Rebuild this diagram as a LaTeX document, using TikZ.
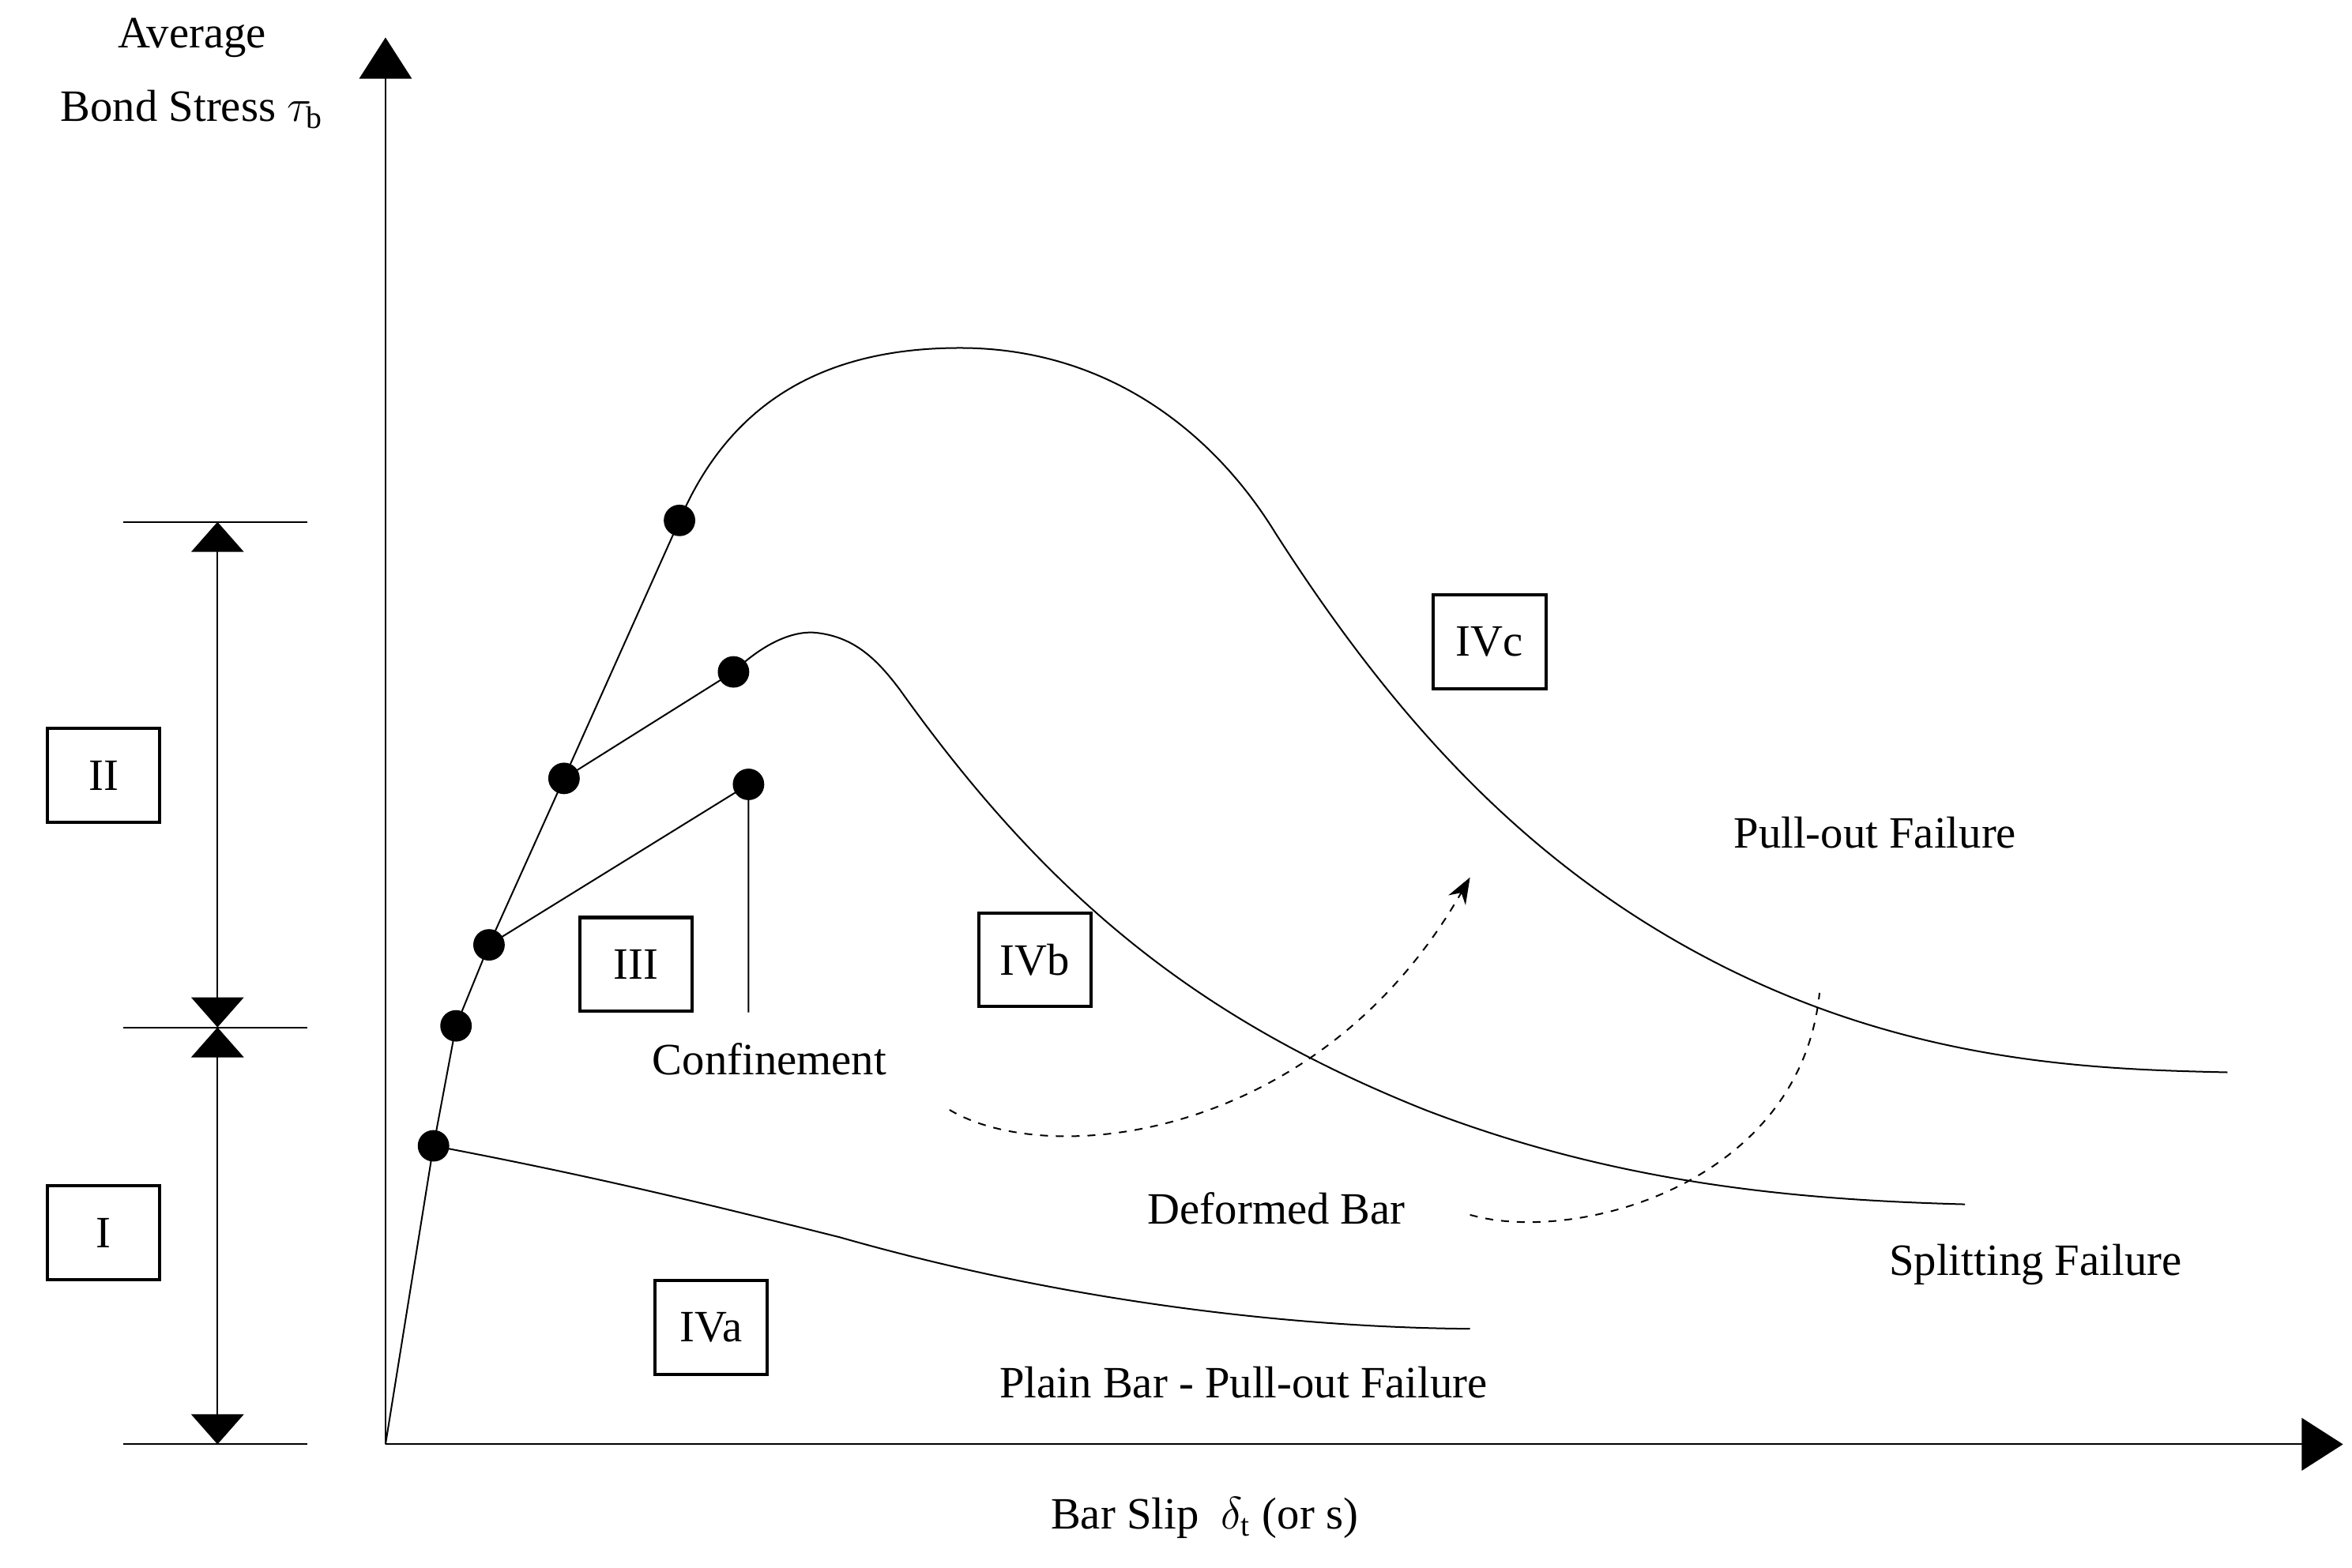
\documentclass[tikz,border=0pt]{standalone}
\usepackage{fontspec}
\setmainfont{Liberation Serif}
\usetikzlibrary{arrows.meta}
\begin{document}
\begin{tikzpicture}[x=0.02cm,y=-0.02cm,
  lbl/.style={font=\fontsize{17}{20}\selectfont, inner sep=1pt},
  box/.style={draw, line width=1.2pt, minimum width=1.5cm, minimum height=1.25cm, font=\fontsize{17}{20}\selectfont},
  dot/.style={circle, fill=black, inner sep=0pt, minimum size=0.42cm},
  tri/.style={-{Triangle[length=0.55cm,width=0.7cm]}},
  thin/.style={line width=0.6pt}]
\useasboundingbox (0,0) rectangle (1568,1045);
% axes
\coordinate (O) at (257,963);
\coordinate (Ytop) at (257,25);
\coordinate (Xend) at (1562,963);
\draw[thin,tri] (O) -- (Ytop);
\draw[thin,tri] (O) -- (Xend);
% dimension lines
\coordinate (t1a) at (82,348); \coordinate (t1b) at (205,348);
\coordinate (t2a) at (82,685); \coordinate (t2b) at (205,685);
\coordinate (t3a) at (82,963); \coordinate (t3b) at (205,963);
\draw[thin] (t1a)--(t1b) (t2a)--(t2b) (t3a)--(t3b);
\coordinate (d1) at (145,348); \coordinate (d2) at (145,685); \coordinate (d3) at (145,963);
\coordinate (m1) at (145,600); \coordinate (m2) at (145,760);
\draw[thin,{Triangle[length=0.4cm,width=0.7cm]}-{Triangle[length=0.4cm,width=0.7cm]}] (d1)--(d2);
\draw[thin,{Triangle[length=0.4cm,width=0.7cm]}-{Triangle[length=0.4cm,width=0.7cm]}] (d2)--(d3);
% boxes
\node[box] (bII) at (69,517) {II};
\node[box] (bI) at (69,822) {I};
\node[box] (bIII) at (424,643) {III};
\node[box] (bIVb) at (690,640) {IVb};
\node[box] (bIVc) at (993,428) {IVc};
\node[box] (bIVa) at (474,885) {IVa};
% points
\node[dot] (p1) at (289,764) {};
\node[dot] (p2) at (304,684) {};
\node[dot] (p3) at (326,630) {};
\node[dot] (p4) at (376,519) {};
\node[dot] (p5) at (453,347) {};
\node[dot] (q1) at (489,448) {};
\node[dot] (r1) at (499,523) {};
\coordinate (r2) at (499,675);
\draw[thin] (O)--(p1.center)--(p2.center)--(p3.center)--(p4.center)--(p5.center);
% pull-out curve
\draw[thin] (p5.center) .. controls (490,260) and (560,232) .. (640,232)
  .. controls (740,232) and (810,290) .. (850,355)
  .. controls (930,480) and (1020,580) .. (1150,645)
  .. controls (1280,710) and (1400,713) .. (1485,715);
% splitting
\draw[thin] (p4.center) -- (q1.center) .. controls (510,428) and (530,420) .. (545,422)
  .. controls (570,425) and (585,440) .. (600,460)
  .. controls (700,600) and (800,680) .. (950,740)
  .. controls (1080,790) and (1200,800) .. (1310,803);
% confinement
\draw[thin] (p3.center) -- (r1.center) -- (r2);
% plain bar
\draw[thin] (p1.center) .. controls (400,785) and (480,805) .. (560,825)
  .. controls (700,865) and (850,885) .. (980,886);
% dashed arrows
\coordinate (a1) at (633,740); \coordinate (a2) at (980,585);
\draw[thin,dashed,-{Stealth[length=0.35cm]}] (a1) .. controls (700,780) and (880,760) .. (a2);
\coordinate (b1) at (980,810); \coordinate (b2) at (1213,662);
\draw[thin,dashed] (b1) .. controls (1050,830) and (1200,790) .. (b2);
% labels
\node[lbl] (l1) at (128,25) {Average};
\node[lbl] (l2) at (128,73) {Bond Stress $\tau_{\mathrm{b}}$};
\node[lbl] (l3) at (803,1012) {Bar Slip\ \ $\delta_{\mathrm{t}}$ (or s)};
\node[lbl] (l4) at (1250,555) {Pull-out Failure};
\node[lbl] (l5) at (1357,843) {Splitting Failure};
\node[lbl] (l6) at (851,806) {Deformed Bar};
\node[lbl] (l7) at (513,706) {Confinement};
\node[lbl] (l8) at (829,922) {Plain Bar - Pull-out Failure};
\end{tikzpicture}
\end{document}
